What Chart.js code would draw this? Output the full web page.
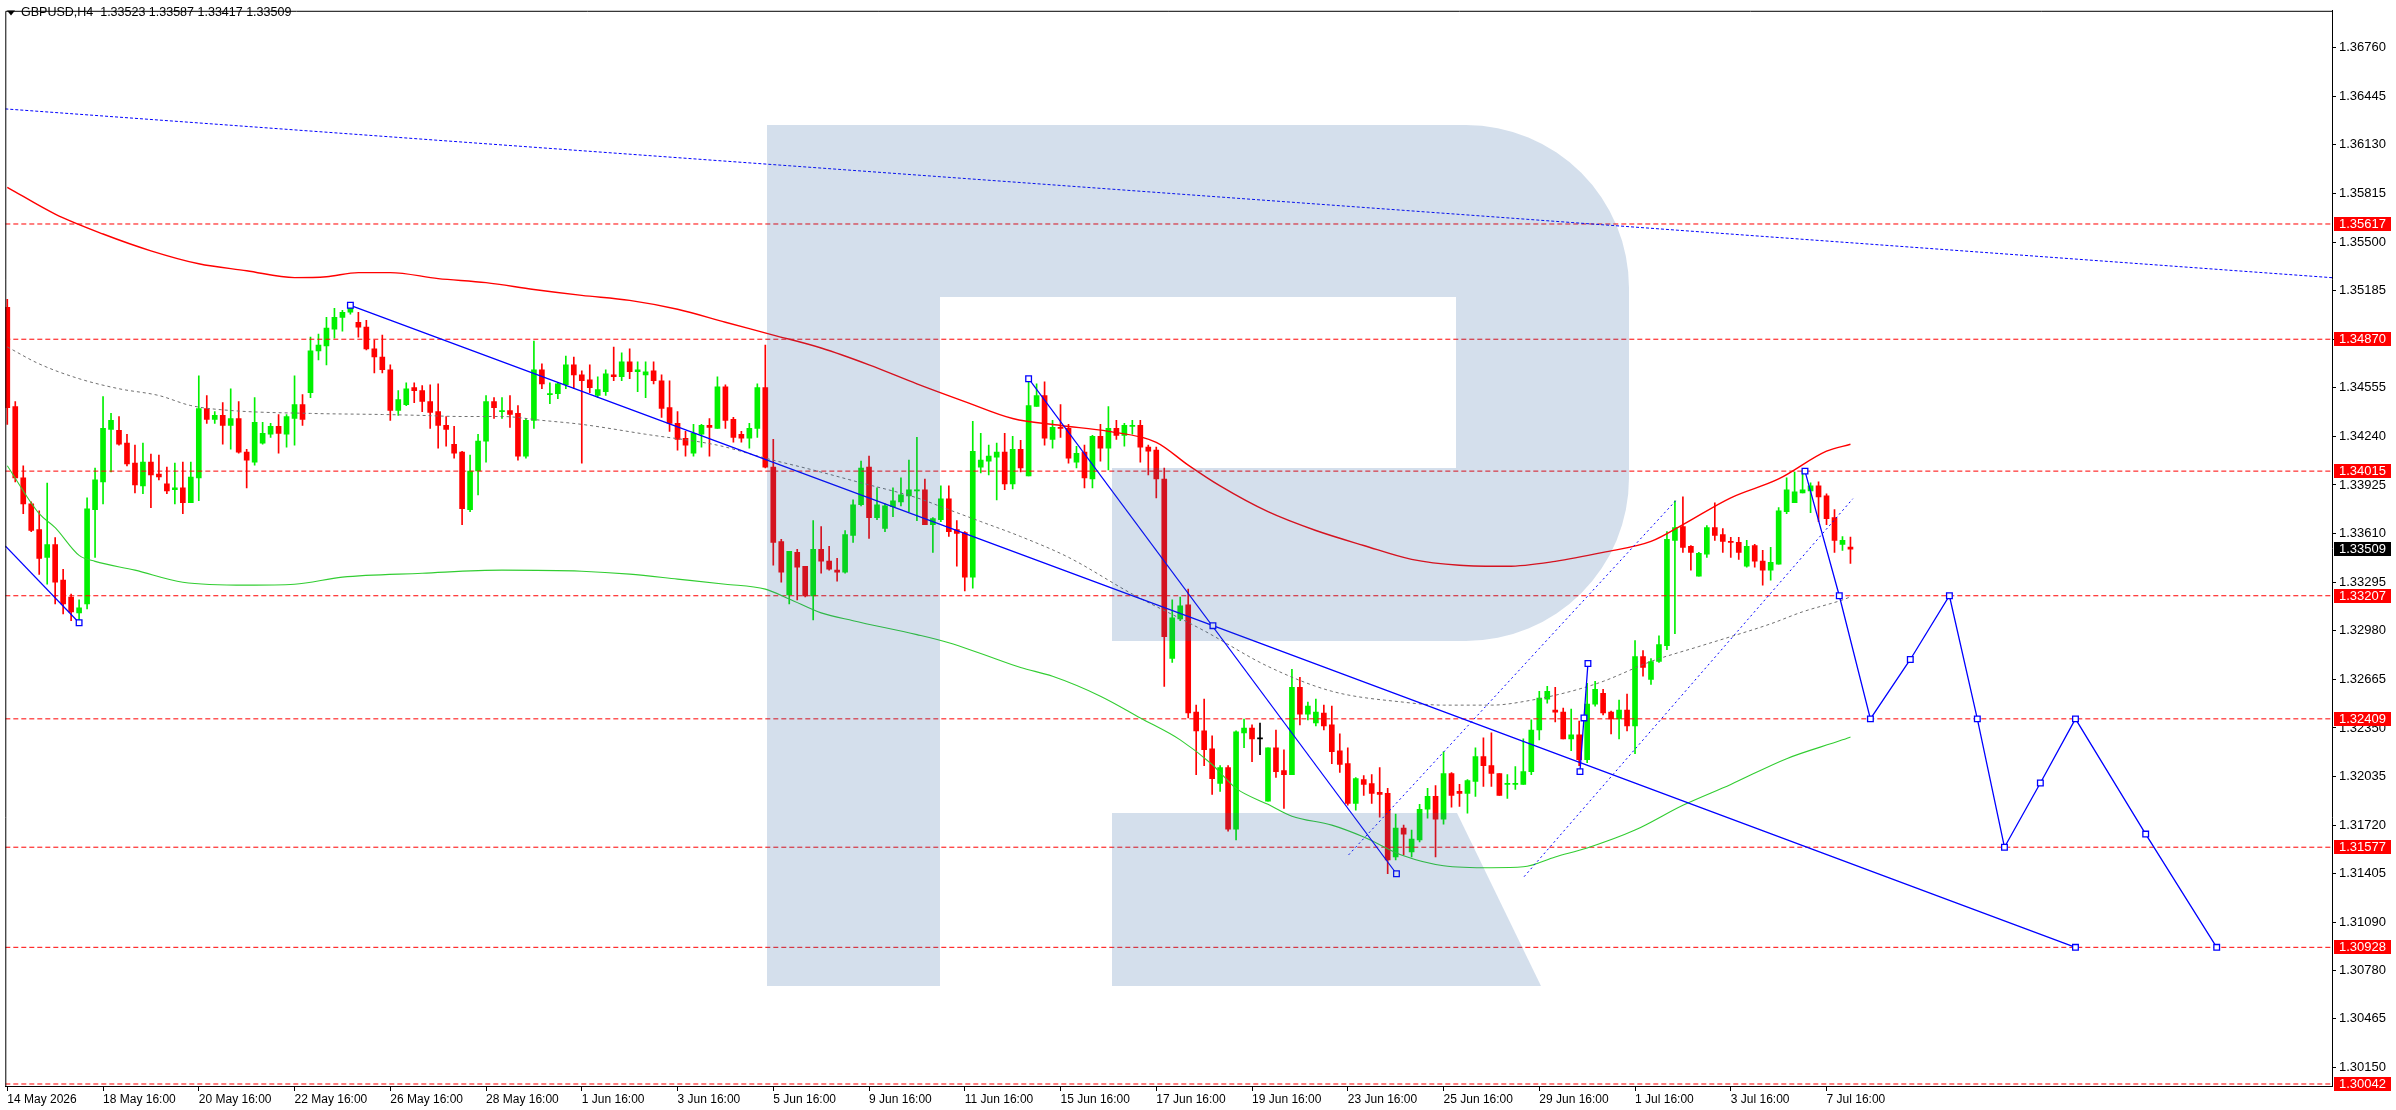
<!DOCTYPE html>
<html>
<head>
<meta charset="utf-8">
<script src="https://cdn.jsdelivr.net/npm/chart.js@4.4.1/dist/chart.umd.min.js"></script>
<style>
  html, body { margin: 0; padding: 0; background: #fff; }
  canvas { display: block; }
</style>
</head>
<body>
<canvas id="myChart" width="2396" height="1110"></canvas>
<script>
const symbol = 'GBPUSD,H4';

// H4 candles, one per bar index (0 = 14 May 16:00)
const opens = [
1.35077,1.34434,1.33971,1.33803,1.33636,1.33456,1.33539,1.33308,1.33199,1.33096,
1.33154,1.33765,1.33945,1.34286,1.34279,1.34196,1.34067,1.33919,1.34073,1.33996,
1.33932,1.33894,1.33906,1.33810,1.33971,1.34421,1.34350,1.34376,1.34311,1.34356,
1.34138,1.34073,1.34196,1.34254,1.34305,1.34254,1.34356,1.34446,1.34524,1.34794,
1.34826,1.34935,1.35012,1.35045,1.34980,1.34948,1.34807,1.34755,1.34672,1.34408,
1.34446,1.34556,1.34537,1.34466,1.34401,1.34311,1.34189,1.34138,1.33765,1.34016,
1.34209,1.34466,1.34401,1.34408,1.34389,1.34112,1.34344,1.34672,1.34511,1.34517,
1.34575,1.34704,1.34639,1.34607,1.34505,1.34530,1.34639,1.34627,1.34723,1.34659,
1.34639,1.34665,1.34601,1.34427,1.34324,1.34228,1.34131,1.34254,1.34311,1.34292,
1.34562,1.34350,1.34254,1.34228,1.34292,1.34556,1.34041,1.33559,1.33212,1.33488,
1.33398,1.33206,1.33508,1.33431,1.33373,1.33360,1.33598,1.33797,1.34041,1.33713,
1.33643,1.33784,1.33816,1.33855,1.33887,1.33894,1.33668,1.33701,1.33836,1.33636,
1.33617,1.33328,1.34041,1.34080,1.34106,1.34138,1.33932,1.34157,1.33984,1.34434,
1.34505,1.34221,1.34299,1.34292,1.34073,1.34138,1.33964,1.34241,1.34164,1.34292,
1.34247,1.34305,1.34311,1.34170,1.34151,1.33964,1.32801,1.33057,1.33148,1.32453,
1.32331,1.32215,1.31990,1.32093,1.31694,1.32318,1.32350,1.32279,1.31875,1.32222,
1.32074,1.32048,1.32614,1.32440,1.32382,1.32447,1.32370,1.32202,1.32119,1.31861,
1.32016,1.31990,1.31932,1.31926,1.31514,1.31701,1.31547,1.31624,1.31823,1.31907,
1.31759,1.32055,1.31939,1.31926,1.32003,1.32164,1.32106,1.32055,1.31984,1.31984,
1.31984,1.32067,1.32337,1.32537,1.32466,1.32453,1.32279,1.32305,1.32145,1.32505,
1.32575,1.32453,1.32408,1.32466,1.32363,1.32813,1.32665,1.32781,1.32884,1.33566,
1.33655,1.33527,1.33334,1.33476,1.33649,1.33604,1.33559,1.33553,1.33398,1.33533,
1.33431,1.33373,1.33411,1.33752,1.33810,1.33874,1.33887,1.33919,1.33855,1.33713,
1.33540,1.33523];

const highs = [
1.35128,1.34466,1.34049,1.33816,1.33758,1.33938,1.33584,1.33379,1.33218,1.33180,
1.33842,1.34035,1.34498,1.34389,1.34369,1.34254,1.34183,1.34196,1.34125,1.34119,
1.34041,1.34067,1.34073,1.34073,1.34633,1.34505,1.34401,1.34459,1.34549,1.34466,
1.34157,1.34492,1.34331,1.34324,1.34382,1.34382,1.34633,1.34511,1.34884,1.34903,
1.35012,1.35070,1.35057,1.35090,1.35045,1.34993,1.34864,1.34897,1.34704,1.34537,
1.34588,1.34588,1.34569,1.34575,1.34581,1.34369,1.34305,1.34144,1.34119,1.34254,
1.34505,1.34492,1.34492,1.34505,1.34440,1.34356,1.34858,1.34710,1.34588,1.34588,
1.34761,1.34755,1.34665,1.34704,1.34627,1.34672,1.34819,1.34781,1.34807,1.34723,
1.34723,1.34723,1.34639,1.34601,1.34401,1.34273,1.34318,1.34318,1.34356,1.34627,
1.34575,1.34363,1.34273,1.34324,1.34581,1.34832,1.34221,1.33572,1.33495,1.33508,
1.33398,1.33694,1.33655,1.33527,1.33450,1.33630,1.33829,1.34080,1.34112,1.33906,
1.33803,1.33906,1.33971,1.34086,1.34234,1.33964,1.33713,1.33919,1.33919,1.33694,
1.33623,1.34337,1.34260,1.34183,1.34196,1.34260,1.34241,1.34215,1.34614,1.34581,
1.34594,1.34344,1.34446,1.34318,1.34176,1.34183,1.34247,1.34318,1.34434,1.34344,
1.34324,1.34344,1.34344,1.34183,1.34170,1.34035,1.33180,1.33199,1.33250,1.32498,
1.32537,1.32299,1.32106,1.32106,1.32331,1.32408,1.32370,1.32382,1.32222,1.32337,
1.32209,1.32730,1.32678,1.32517,1.32537,1.32498,1.32492,1.32312,1.32222,1.32029,
1.32042,1.32048,1.32093,1.31958,1.31791,1.31720,1.31688,1.31855,1.31958,1.31977,
1.32196,1.32061,1.31984,1.32016,1.32222,1.32286,1.32318,1.32055,1.32048,1.32100,
1.32280,1.32402,1.32588,1.32620,1.32614,1.32479,1.32472,1.32395,1.32640,1.32652,
1.32601,1.32460,1.32530,1.32569,1.32916,1.32852,1.32800,1.32948,1.33623,1.33823,
1.33848,1.33533,1.33488,1.33662,1.33810,1.33643,1.33585,1.33585,1.33566,1.33540,
1.33501,1.33521,1.33778,1.33971,1.34009,1.34022,1.33939,1.33945,1.33868,1.33765,
1.33591,1.33587];

const lows = [
1.34318,1.33945,1.33739,1.33623,1.33346,1.33282,1.33154,1.33090,1.33045,1.33032,
1.33122,1.33456,1.33803,1.34009,1.34183,1.34048,1.33874,1.33868,1.33778,1.33958,
1.33868,1.33803,1.33739,1.33810,1.33823,1.34324,1.34324,1.34189,1.34157,1.34131,
1.33906,1.34054,1.34189,1.34234,1.34131,1.34170,1.34183,1.34311,1.34491,1.34736,
1.34704,1.34877,1.34922,1.35032,1.34884,1.34800,1.34652,1.34652,1.34344,1.34376,
1.34440,1.34459,1.34401,1.34292,1.34164,1.34176,1.34099,1.33668,1.33752,1.33861,
1.34073,1.34356,1.34356,1.34299,1.34086,1.34099,1.34292,1.34549,1.34453,1.34485,
1.34549,1.34549,1.34067,1.34524,1.34491,1.34505,1.34601,1.34601,1.34614,1.34530,
1.34491,1.34581,1.34363,1.34273,1.34151,1.34112,1.34112,1.34170,1.34112,1.34292,
1.34292,1.34202,1.34202,1.34164,1.34234,1.34035,1.33405,1.33295,1.33154,1.33180,
1.33199,1.33051,1.33353,1.33373,1.33302,1.33353,1.33553,1.33790,1.33578,1.33701,
1.33623,1.33720,1.33790,1.33752,1.33694,1.33668,1.33488,1.33688,1.33591,1.33398,
1.33238,1.33257,1.34003,1.33990,1.33829,1.33894,1.33900,1.34009,1.33984,1.34434,
1.34183,1.34164,1.34234,1.34067,1.34035,1.33906,1.33906,1.34080,1.34022,1.34221,
1.34176,1.34254,1.34073,1.33990,1.33842,1.32620,1.32775,1.33045,1.32415,1.32048,
1.32106,1.31919,1.31939,1.31681,1.31624,1.32222,1.32132,1.32177,1.31875,1.32029,
1.31829,1.32048,1.32370,1.32402,1.32363,1.32337,1.32119,1.32061,1.31849,1.31817,
1.31913,1.31861,1.31772,1.31405,1.31495,1.31527,1.31514,1.31611,1.31765,1.31514,
1.31727,1.31836,1.31842,1.31797,1.31907,1.31971,1.31971,1.31913,1.31894,1.31952,
1.31984,1.32048,1.32273,1.32511,1.32389,1.32279,1.32202,1.32106,1.32125,1.32492,
1.32434,1.32312,1.32279,1.32331,1.32183,1.32685,1.32633,1.32775,1.32858,1.32961,
1.33488,1.33373,1.33334,1.33456,1.33566,1.33488,1.33456,1.33443,1.33392,1.33392,
1.33276,1.33308,1.33411,1.33739,1.33810,1.33874,1.33746,1.33688,1.33668,1.33488,
1.33501,1.33417];

const closes = [
1.34427,1.33971,1.33803,1.33630,1.33449,1.33539,1.33295,1.33154,1.33103,1.33128,
1.33771,1.33958,1.34292,1.34344,1.34189,1.34061,1.33926,1.34073,1.33990,1.33977,
1.33887,1.33906,1.33810,1.33977,1.34421,1.34350,1.34376,1.34311,1.34356,1.34138,
1.34086,1.34331,1.34260,1.34305,1.34260,1.34369,1.34446,1.34350,1.34794,1.34832,
1.34942,1.35012,1.35045,1.35070,1.34948,1.34807,1.34755,1.34672,1.34408,1.34479,
1.34549,1.34537,1.34466,1.34395,1.34311,1.34286,1.34131,1.33771,1.34016,1.34209,
1.34466,1.34427,1.34408,1.34382,1.34112,1.34344,1.34672,1.34581,1.34517,1.34581,
1.34704,1.34639,1.34601,1.34556,1.34543,1.34646,1.34627,1.34723,1.34659,1.34672,
1.34659,1.34601,1.34421,1.34324,1.34221,1.34183,1.34260,1.34311,1.34299,1.34562,
1.34344,1.34234,1.34228,1.34292,1.34556,1.34041,1.33553,1.33360,1.33495,1.33392,
1.33206,1.33508,1.33431,1.33379,1.33360,1.33604,1.33797,1.34035,1.33713,1.33797,
1.33790,1.33823,1.33861,1.33894,1.33894,1.33668,1.33707,1.33836,1.33623,1.33611,
1.33328,1.34144,1.34086,1.34112,1.34138,1.33932,1.34157,1.34035,1.34440,1.34505,
1.34228,1.34299,1.34292,1.34099,1.34131,1.33971,1.34241,1.34164,1.34292,1.34247,
1.34311,1.34311,1.34170,1.34144,1.33964,1.32942,1.33064,1.33141,1.32447,1.32331,
1.32209,1.32022,1.32093,1.31694,1.32325,1.32350,1.32279,1.32279,1.32222,1.32067,
1.32048,1.32614,1.32440,1.32492,1.32453,1.32363,1.32196,1.32113,1.31861,1.32022,
1.31984,1.31926,1.31919,1.31495,1.31701,1.31662,1.31630,1.31823,1.31907,1.31759,
1.32055,1.31913,1.31926,1.32009,1.32164,1.32106,1.32055,1.31913,1.31990,1.31990,
1.32067,1.32337,1.32543,1.32588,1.32453,1.32279,1.32305,1.32145,1.32505,1.32601,
1.32447,1.32408,1.32466,1.32363,1.32813,1.32742,1.32781,1.32890,1.33572,1.33649,
1.33521,1.33488,1.33482,1.33649,1.33598,1.33559,1.33553,1.33488,1.33527,1.33431,
1.33373,1.33424,1.33758,1.33894,1.33881,1.33894,1.33919,1.33848,1.33707,1.33566,
1.33566,1.33509];

// axis ticks
const dateTicks = [0,12,24,36,48,60,72,84,96,108,120,132,144,156,168,180,192,204,216,228];
const dateLabels = ['14 May 2026','18 May 16:00','20 May 16:00','22 May 16:00','26 May 16:00',
  '28 May 16:00','1 Jun 16:00','3 Jun 16:00','5 Jun 16:00','9 Jun 16:00','11 Jun 16:00',
  '15 Jun 16:00','17 Jun 16:00','19 Jun 16:00','23 Jun 16:00','25 Jun 16:00','29 Jun 16:00',
  '1 Jul 16:00','3 Jul 16:00','7 Jul 16:00'];
const priceTicks = [1.36760,1.36445,1.36130,1.35815,1.35500,1.35185,1.34870,1.34555,1.34240,
  1.33925,1.33610,1.33295,1.32980,1.32665,1.32350,1.32035,1.31720,1.31405,1.31090,1.30780,
  1.30465,1.30150];

// horizontal levels
const levels = [1.35617,1.34870,1.34015,1.33207,1.32409,1.31577,1.30928,1.30042];

// moving averages, sampled along the bars
const redIdx = [0,6,12,18,24,30,36,40,44,48,54,60,66,72,78,84,90,96,102,108,114,120,126,132,138,144,148,152,158,164,170,176,182,188,194,200,206,210,216,222,228,231];
const redMA = [1.35855,1.35681,1.35552,1.35443,1.35359,1.35314,1.35269,1.35275,1.35302,1.35302,1.35263,1.35237,1.35192,1.35154,1.35122,1.35064,1.34980,1.34897,1.34813,1.34704,1.34581,1.34466,1.34356,1.34311,1.34273,1.34202,1.34054,1.33919,1.33752,1.33630,1.33533,1.33443,1.33405,1.33398,1.33430,1.33488,1.33559,1.33668,1.33842,1.33964,1.34144,1.34189];
const greenIdx = [0,4,6,9,11,16,22,30,36,42,52,62,72,78,84,90,95,98,102,106,114,118,122,127,131,137,142,147,151,154,158,161,166,170,175,180,186,190,194,198,204,210,216,223,230,231];
const greenMA = [1.34050,1.33739,1.33649,1.33469,1.33430,1.33373,1.33295,1.33276,1.33282,1.33328,1.33353,1.33373,1.33366,1.33347,1.33315,1.33282,1.33250,1.33186,1.33096,1.33045,1.32955,1.32903,1.32833,1.32742,1.32685,1.32556,1.32415,1.32273,1.32113,1.31958,1.31855,1.31778,1.31720,1.31643,1.31521,1.31457,1.31444,1.31450,1.31514,1.31572,1.31688,1.31849,1.31984,1.32151,1.32273,1.32292];
const grayIdx = [0,4,9,14,19,23,28,38,47,52,57,62,67,72,80,89,95,101,107,114,118,122,127,133,141,150,158,166,175,180,186,191,196,200,206,212,216,221,225,230,231];
const grayMA = [1.34820,1.34710,1.34614,1.34549,1.34505,1.34440,1.34408,1.34389,1.34382,1.34376,1.34369,1.34369,1.34344,1.34318,1.34254,1.34183,1.34099,1.34022,1.33939,1.33842,1.33765,1.33688,1.33591,1.33456,1.33218,1.32980,1.32749,1.32588,1.32517,1.32498,1.32498,1.32530,1.32588,1.32652,1.32781,1.32878,1.32942,1.33025,1.33103,1.33180,1.33200];

// drawn objects: [bar index, price]
const topDotted = [[-0.25,1.36363],[291.35,1.35269]];
const mainTrend = [[43,1.35090],[151.1,1.33013],[259.2,1.30928]];
const steepTrend = [[128,1.34614],[174.1,1.31405]];
const leftTrend = [[-0.25,1.33530],[9,1.33032]];
const smallWave = [[197.1,1.32067],[197.6,1.32415],[198.1,1.32768]];
const channelUp = [[168.1,1.31527],[209.1,1.33823]];
const channelLow = [[190.1,1.31386],[231.3,1.33836]];
const forecastIdx = [225.3,229.6,233.5,238.5,243.4,246.9,250.3,254.8,259.2,268.0,276.9];
const forecastPrice = [1.34015,1.33207,1.32409,1.32794,1.33207,1.32409,1.31577,1.31993,1.32409,1.31662,1.30928];

const bull = '#00f000';
const bear = '#ff0000';
const fontFam = "'Liberation Sans', Arial, sans-serif";
const xMin = -0.25, xMax = 291.35;

const bars = opens.map((o, i) => i);
const candleColor = bars.map(i => closes[i] > opens[i] ? bull : (closes[i] < opens[i] ? bear : '#000000'));

function line(pts, color, width, dash, radius) {
  return {
    type: 'line',
    data: pts.map(p => ({ x: p[0], y: p[1] })),
    borderColor: color,
    borderWidth: width,
    borderDash: dash || [],
    pointRadius: radius || 0,
    pointStyle: 'rect',
    pointBackgroundColor: '#ffffff',
    pointBorderColor: color,
    pointBorderWidth: 1.3,
    tension: 0,
    order: 1
  };
}

function maLine(idx, vals, color, width, dash) {
  const ds = line(idx.map((x, k) => [x, vals[k]]), color, width, dash, 0);
  ds.cubicInterpolationMode = 'monotone';
  ds.order = 2;
  return ds;
}

const datasets = [
  { type: 'bar', data: bars.map(i => ({ x: i, y: [lows[i], highs[i]] })), backgroundColor: candleColor,
    barThickness: 1, grouped: false, borderWidth: 0, order: 11 },
  { type: 'bar', data: bars.map(i => ({ x: i, y: [opens[i], closes[i]] })), backgroundColor: candleColor,
    barThickness: 5, minBarLength: 1, grouped: false, borderWidth: 0, order: 10 },
  ...levels.map(v => Object.assign(line([[xMin, v], [xMax, v]], '#ff0000', 1, [5, 3]), { order: 3 })),
  maLine(redIdx, redMA, '#ff0000', 1.4),
  maLine(greenIdx, greenMA, '#32cd32', 1.1),
  maLine(grayIdx, grayMA, '#707070', 1, [3, 3]),
  line(topDotted, '#0000ff', 1, [3, 2]),
  line(channelUp, '#0000ff', 1, [2, 3]),
  line(channelLow, '#0000ff', 1, [2, 3]),
  line(mainTrend, '#0000ff', 1.3, [], 4),
  line(steepTrend, '#0000ff', 1.2, [], 4),
  Object.assign(line(leftTrend, '#0000ff', 1.2, [], 4), { pointRadius: [0, 4] }),
  line(smallWave, '#0000ff', 1.3, [], 4),
  line(forecastIdx.map((x, k) => [x, forecastPrice[k]]), '#0000ff', 1.3, [], 4)
];

// background, frame, logo, axis price boxes, header text
const mt4Decor = {
  id: 'mt4Decor',
  beforeDraw(chart) {
    const c = chart.ctx;
    c.save();
    c.fillStyle = '#ffffff';
    c.fillRect(0, 0, chart.width, chart.height);
    c.restore();
  },
  afterDatasetsDraw(chart) {
    const c = chart.ctx, a = chart.chartArea;
    c.save();
    c.beginPath();
    c.rect(a.left, a.top, a.right - a.left, a.bottom - a.top);
    c.clip();
    c.fillStyle = 'rgba(40,95,160,0.2)';
    c.beginPath();
    c.moveTo(767, 125);
    c.lineTo(1467, 125);
    c.arcTo(1629, 125, 1629, 290, 163);
    c.lineTo(1629, 476);
    c.arcTo(1629, 641, 1467, 641, 163);
    c.lineTo(1112, 641);
    c.lineTo(1112, 468);
    c.lineTo(940, 468);
    c.lineTo(940, 986);
    c.lineTo(767, 986);
    c.closePath();
    c.moveTo(940, 297);
    c.lineTo(1456, 297);
    c.lineTo(1456, 468);
    c.lineTo(940, 468);
    c.closePath();
    c.fill('evenodd');
    c.beginPath();
    c.moveTo(1112, 813);
    c.lineTo(1457, 813);
    c.lineTo(1541, 986);
    c.lineTo(1112, 986);
    c.closePath();
    c.fill();
    c.restore();

    c.save();
    c.strokeStyle = '#000000';
    c.lineWidth = 1;
    c.beginPath();
    c.moveTo(a.left + 0.5, a.bottom);
    c.lineTo(a.left + 0.5, a.top + 0.5);
    c.lineTo(a.right, a.top + 0.5);
    c.stroke();
    c.restore();
  },
  afterDraw(chart) {
    const c = chart.ctx, y = chart.scales.y, a = chart.chartArea;
    c.save();
    c.font = '13px ' + fontFam;
    c.textBaseline = 'middle';
    c.textAlign = 'left';
    const box = (v, bg) => {
      const py = Math.round(y.getPixelForValue(v));
      c.fillStyle = bg;
      c.fillRect(a.right + 2, py - 7, 57, 14);
      c.fillStyle = '#ffffff';
      c.fillText(v.toFixed(5), a.right + 7, py + 0.5);
    };
    levels.forEach(v => box(v, '#ff0000'));
    const last = closes.length - 1;
    box(closes[last], '#000000');

    // header
    c.fillStyle = '#000000';
    c.beginPath();
    c.moveTo(7, 10.5);
    c.lineTo(15, 10.5);
    c.lineTo(11, 15.5);
    c.closePath();
    c.fill();
    c.font = '12.5px ' + fontFam;
    c.fillText(symbol + '  ' + [opens[last], highs[last], lows[last], closes[last]].map(v => v.toFixed(5)).join(' '), 21, 13);
    c.restore();
  }
};

const ctx = document.querySelector('#myChart');

new Chart(ctx, {
  type: 'bar',
  data: { datasets: datasets },
  plugins: [mt4Decor],
  options: {
    responsive: false,
    animation: false,
    devicePixelRatio: 1,
    events: [],
    layout: { padding: { top: 2, left: 2, right: 0, bottom: 0 } },
    plugins: { legend: { display: false }, tooltip: { enabled: false } },
    scales: {
      x: {
        type: 'linear',
        position: 'bottom',
        min: xMin,
        max: xMax,
        offset: false,
        grid: { offset: false, drawOnChartArea: false, drawTicks: true, tickLength: 5, color: '#000000' },
        border: { display: true, color: '#000000', width: 1 },
        afterBuildTicks: s => { s.ticks = dateTicks.map(v => ({ value: v })); },
        afterFit: s => { s.height = 24; },
        ticks: {
          autoSkip: false, maxRotation: 0, align: 'start', padding: 1,
          color: '#000000', font: { family: fontFam, size: 12 },
          callback: (v, i) => dateLabels[i]
        }
      },
      y: {
        type: 'linear',
        position: 'right',
        min: 1.30029,
        max: 1.36999,
        beginAtZero: false,
        grid: { drawOnChartArea: false, drawTicks: true, tickLength: 4, color: '#000000' },
        border: { display: true, color: '#000000', width: 1 },
        afterBuildTicks: s => { s.ticks = priceTicks.map(v => ({ value: v })); },
        afterFit: s => { s.width = 64; },
        ticks: {
          autoSkip: false, padding: 3, color: '#000000',
          font: { family: fontFam, size: 13 },
          callback: v => v.toFixed(5)
        }
      }
    }
  }
});
</script>
</body>
</html>
